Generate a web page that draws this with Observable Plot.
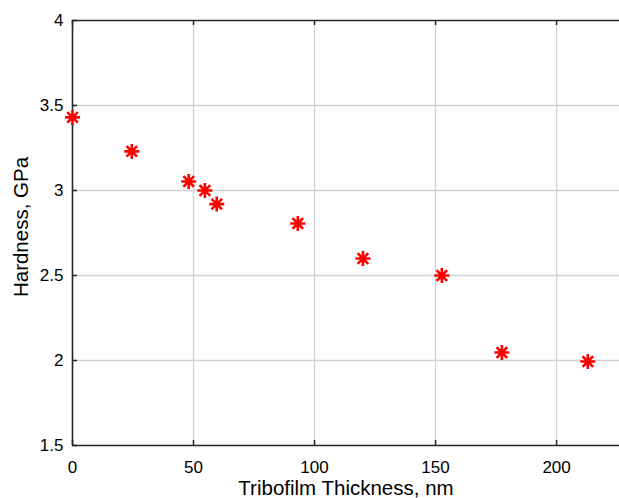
<!DOCTYPE html>
<html>
<head>
<meta charset="utf-8">
<script src="https://cdn.jsdelivr.net/npm/d3@7"></script>
<script src="https://cdn.jsdelivr.net/npm/@observablehq/plot@0.6"></script>
<style>
  html, body { margin: 0; padding: 0; background: #fff; }
  #chart { width: 619px; height: 498px; overflow: hidden; }
</style>
</head>
<body>
<div id="chart"></div>
<script>
const thickness = [0, 24.5, 48, 54.7, 59.6, 93.1, 120, 152.6, 177.4, 212.9];
const hardness  = [3.43, 3.23, 3.053, 3.0, 2.92, 2.806, 2.6, 2.5, 2.047, 1.994];
const xTicks = [0, 50, 100, 150, 200];
const yTicks = [1.5, 2, 2.5, 3, 3.5, 4];
const xLabel = "Tribofilm Thickness, nm";
const yLabel = "Hardness, GPa";

const data = thickness.map((t, i) => ({t, h: hardness[i]}));

const W = 619, H = 498, mL = 72, mR = 0, mT = 20, mB = 53;
const plotW = W - mL - mR, plotH = H - mT - mB;
const font = "'Liberation Sans', Arial, Helvetica, sans-serif";
const axisColor = "#262626";

const asterisk = {
  draw(ctx, size) {
    const r = Math.sqrt(size / Math.PI);
    const d = r * Math.SQRT1_2;
    ctx.moveTo(-r, 0); ctx.lineTo(r, 0);
    ctx.moveTo(0, -r); ctx.lineTo(0, r);
    ctx.moveTo(-d, -d); ctx.lineTo(d, d);
    ctx.moveTo(-d, d); ctx.lineTo(d, -d);
  }
};

const chart = Plot.plot({
  width: W, height: H,
  marginLeft: mL, marginRight: mR, marginTop: mT, marginBottom: mB,
  style: {fontFamily: font, color: "#000", background: "#fff"},
  x: {domain: [0, 226]},
  y: {domain: [1.5, 4]},
  marks: [
    Plot.ruleX(xTicks.filter(d => d > 0), {stroke: "#d2d2d2", strokeWidth: 1.3}),
    Plot.ruleY(yTicks.filter(d => d > 1.5 && d < 4), {stroke: "#d2d2d2", strokeWidth: 1.3}),
    Plot.tickX(xTicks, {x: d => d, insetTop: plotH - 5, stroke: axisColor, strokeWidth: 1.5}),
    Plot.tickX(xTicks, {x: d => d, insetBottom: plotH - 5, stroke: axisColor, strokeWidth: 1.5}),
    Plot.tickY(yTicks, {y: d => d, insetRight: plotW - 5, stroke: axisColor, strokeWidth: 1.5}),
    Plot.ruleY([1.5, 4], {stroke: axisColor, strokeWidth: 1.6}),
    Plot.ruleX([0], {stroke: axisColor, strokeWidth: 1.6}),
    Plot.axisX({ticks: xTicks, tickSize: 0, tickPadding: 15, fontSize: 17, label: null, tickFormat: d => String(d)}),
    Plot.axisY({ticks: yTicks, tickSize: 0, tickPadding: 9, fontSize: 17, label: null, tickFormat: d => String(d)}),
    Plot.dot(data, {x: "t", y: "h", symbol: asterisk, r: 7.5, fill: "none", stroke: "#ff0000", strokeWidth: 2.6}),
    Plot.text([xLabel], {frameAnchor: "bottom", dy: 43, fontSize: 20.5, lineAnchor: "middle", textAnchor: "middle", fill: "#000"}),
    Plot.text([yLabel], {frameAnchor: "left", dx: -51, dy: -6, rotate: -90, fontSize: 20.5, lineAnchor: "middle", textAnchor: "middle", fill: "#000"})
  ]
});
document.getElementById("chart").appendChild(chart);
</script>
</body>
</html>
